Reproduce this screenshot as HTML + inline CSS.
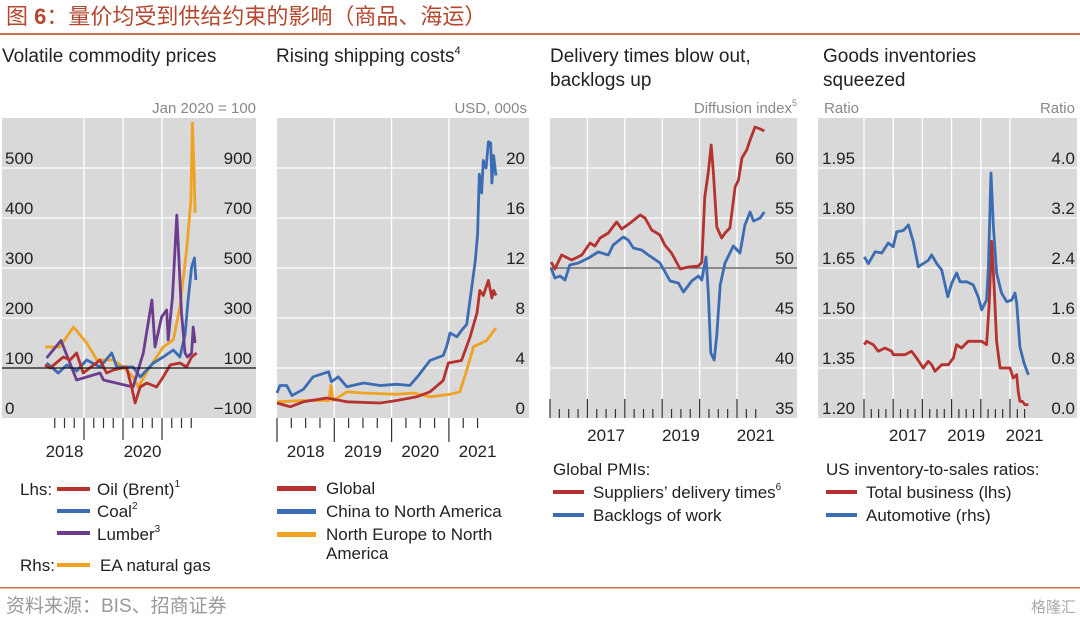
<!DOCTYPE html>
<html><head><meta charset="utf-8"><style>
body{margin:0;background:#fff;width:1080px;height:621px;overflow:hidden}
svg{display:block}
text{font-family:"Liberation Sans","Noto Sans CJK SC",sans-serif}
</style></head><body>
<svg id="s" width="1080" height="621" viewBox="0 0 1080 621">
<text x="6" y="24" font-size="22" fill="#b5472f" font-family="'Liberation Serif','Noto Serif CJK SC',serif">图 <tspan font-weight="bold" font-family="'Liberation Sans',sans-serif">6</tspan>：量价均受到供给约束的影响（商品、海运）</text>
<rect x="0" y="33" width="1080" height="2" fill="#c8704f"/>
<text x="2" y="62" font-size="19" fill="#222">Volatile commodity prices</text>
<text x="276" y="62" font-size="19" fill="#222">Rising shipping costs<tspan font-size="11" dy="-8">4</tspan></text>
<text x="550" y="62" font-size="19" fill="#222">Delivery times blow out,<tspan x="550" dy="24">backlogs up</tspan></text>
<text x="823" y="62" font-size="19" fill="#222">Goods inventories<tspan x="823" dy="24">squeezed</tspan></text>
<text x="256" y="113" font-size="15" fill="#888" text-anchor="end">Jan 2020 = 100</text>
<text x="527" y="113" font-size="15" fill="#888" text-anchor="end">USD, 000s</text>
<text x="797" y="113" font-size="15" fill="#888" text-anchor="end">Diffusion index<tspan font-size="9" dy="-7">5</tspan></text>
<text x="824" y="113" font-size="15" fill="#888">Ratio</text>
<text x="1075" y="113" font-size="15" fill="#888" text-anchor="end">Ratio</text>
<g id="charts"></g>
<g font-size="17" fill="#222">
<text x="20" y="495">Lhs:</text>
<rect x="57" y="487" width="33" height="4" fill="#b5322f"/>
<text x="97" y="495">Oil (Brent)<tspan font-size="10" dy="-8">1</tspan></text>
<rect x="57" y="509" width="33" height="4" fill="#3c6db4"/>
<text x="97" y="517">Coal<tspan font-size="10" dy="-8">2</tspan></text>
<rect x="57" y="531" width="33" height="4" fill="#6c3d8f"/>
<text x="97" y="540">Lumber<tspan font-size="10" dy="-8">3</tspan></text>
<text x="20" y="571">Rhs:</text>
<rect x="57" y="563" width="33" height="4" fill="#f0a323"/>
<text x="100" y="571">EA natural gas</text>
<rect x="277" y="486" width="39" height="5" fill="#b5322f"/>
<text x="326" y="494">Global</text>
<rect x="277" y="509" width="39" height="5" fill="#3c6db4"/>
<text x="326" y="517">China to North America</text>
<rect x="277" y="532" width="39" height="5" fill="#f0a323"/>
<text x="326" y="540">North Europe to North<tspan x="326" dy="19">America</tspan></text>
<text x="553" y="475">Global PMIs:</text>
<rect x="553" y="490" width="31" height="4" fill="#b5322f"/>
<text x="593" y="498">Suppliers’ delivery times<tspan font-size="10" dy="-8">6</tspan></text>
<rect x="553" y="513" width="31" height="4" fill="#3c6db4"/>
<text x="593" y="521">Backlogs of work</text>
<text x="826" y="475">US inventory-to-sales ratios:</text>
<rect x="826" y="490" width="31" height="4" fill="#b5322f"/>
<text x="866" y="498">Total business (lhs)</text>
<rect x="826" y="513" width="31" height="4" fill="#3c6db4"/>
<text x="866" y="521">Automotive (rhs)</text>
</g>
<rect x="0" y="587" width="1080" height="1.5" fill="#c8704f"/>
<text x="6" y="612" font-size="19" fill="#999" font-family="'Liberation Serif','Noto Serif CJK SC',serif">资料来源：BIS、招商证券</text>
<text x="1076" y="612" font-size="15" fill="#aaa" text-anchor="end">格隆汇</text>
</svg>
<script>
// Panel 1: commodity prices (Jan 2020 = 100)
const oilT=[2018.00,2018.13,2018.47,2018.64,2018.81,2018.98,2019.41,2019.58,2019.75,2020.09,2020.22,2020.31,2020.44,2020.61,2020.86,2021.03,2021.21,2021.46,2021.63,2021.76,2021.89];
const oilV=[106,100,122,116,130,90,116,90,96,102,62,30,62,70,62,82,106,110,102,122,130];
const coalT=[2018.04,2018.34,2018.56,2018.81,2019.07,2019.41,2019.71,2019.84,2020.26,2020.44,2020.78,2021.03,2021.29,2021.46,2021.59,2021.67,2021.76,2021.83,2021.87];
const coalV=[110,90,106,94,116,102,130,102,102,82,110,122,136,122,166,236,302,320,276];
const lumberT=[2018.04,2018.41,2018.81,2019.41,2019.50,2020.26,2020.52,2020.74,2020.82,2020.99,2021.12,2021.16,2021.27,2021.38,2021.50,2021.59,2021.65,2021.76,2021.80,2021.85];
const lumberV=[120,155,76,90,76,62,130,236,142,202,216,156,242,406,210,130,122,130,182,150];
const gasT=[2018.00,2018.38,2018.73,2019.07,2019.33,2019.75,2020.01,2020.26,2020.39,2020.69,2021.03,2021.29,2021.46,2021.63,2021.74,2021.78,2021.82,2021.85];
const gasV=[184,184,264,200,132,132,104,64,24,104,184,212,344,572,772,1080,904,720];
const p1LeftTicks=[0,100,200,300,400,500];
const p1RightTicks=[-100,100,300,500,700,900];
const p1Years=[2018,2020];
// Panel 2: shipping costs (USD 000s)
const shipT=[2018.00,2018.05,2018.17,2018.26,2018.46,2018.63,2018.90,2018.95,2019.07,2019.22,2019.51,2019.80,2020.09,2020.32,2020.47,2020.67,2020.90,2020.96,2021.02,2021.14,2021.22,2021.31,2021.40,2021.46,2021.50,2021.53,2021.57,2021.60,2021.65,2021.69,2021.73,2021.75,2021.78,2021.82];
const chinaV=[2.0,2.6,2.6,1.8,2.3,3.3,3.7,2.9,3.3,2.5,2.8,2.6,2.7,2.6,3.4,4.6,5.0,5.7,6.8,6.5,7.0,7.5,10.5,12.6,14.7,19.5,18.0,20.6,20.0,22.1,22.0,18.8,21.0,19.4];
const globalT=[2018.00,2018.23,2018.46,2018.87,2019.22,2019.80,2020.09,2020.44,2020.67,2020.90,2020.99,2021.22,2021.37,2021.49,2021.54,2021.60,2021.69,2021.75,2021.78,2021.82];
const globalV=[1.2,0.9,1.3,1.6,1.3,1.2,1.4,1.7,2.1,3.0,4.4,4.6,6.5,8.4,10.2,9.8,11.0,9.6,10.2,9.8];
const europeT=[2018.00,2018.46,2018.91,2018.94,2018.98,2019.22,2019.51,2020.09,2020.38,2020.67,2021.02,2021.19,2021.31,2021.43,2021.66,2021.82];
const europeV=[1.3,1.4,1.4,2.6,1.4,2.1,2.0,1.9,2.0,1.7,1.9,2.1,3.8,5.7,6.2,7.2];
const p2Ticks=[0,4,8,12,16,20];
const p2Years=[2018,2019,2020,2021];
// Panel 3: global PMIs
const delivT=[2016.03,2016.13,2016.31,2016.58,2016.85,2017.07,2017.20,2017.34,2017.56,2017.78,2017.92,2018.18,2018.41,2018.54,2018.72,2018.94,2019.07,2019.25,2019.48,2019.70,2019.97,2020.06,2020.14,2020.23,2020.31,2020.37,2020.46,2020.59,2020.68,2020.81,2020.95,2021.04,2021.13,2021.26,2021.35,2021.48,2021.62,2021.73];
const delivV=[50.6,49.9,51.3,50.8,51.3,52.5,52.2,53.0,53.5,54.6,53.9,54.6,55.3,55.0,53.8,53.3,52.3,51.5,49.9,50.1,50.2,50.6,57.1,59.5,62.3,59.5,54.1,53.0,53.5,54.0,58.1,58.8,61.0,61.8,62.8,64.1,63.9,63.7];
const backT=[2016.03,2016.13,2016.27,2016.40,2016.53,2016.76,2017.03,2017.29,2017.56,2017.69,2017.96,2018.09,2018.23,2018.45,2018.63,2018.94,2019.21,2019.43,2019.57,2019.79,2019.97,2020.06,2020.17,2020.23,2020.30,2020.39,2020.46,2020.55,2020.68,2020.90,2021.08,2021.21,2021.35,2021.44,2021.62,2021.73];
const backV=[50.0,49.0,49.2,48.8,50.3,50.5,51.0,51.6,51.3,52.3,53.1,52.8,52.0,51.8,51.3,50.5,48.7,48.5,47.6,48.7,49.2,48.8,51.1,47.7,41.5,40.8,43.3,48.3,50.5,52.2,51.5,54.3,55.6,54.7,55.0,55.6];
const p3Ticks=[35,40,45,50,55,60];
const p3Years=[2017,2019,2021];
// Panel 4: US inventory-to-sales
const totT=[2016.01,2016.09,2016.32,2016.49,2016.72,2016.95,2017.00,2017.18,2017.40,2017.63,2017.80,2018.03,2018.20,2018.32,2018.43,2018.66,2018.89,2019.06,2019.17,2019.34,2019.57,2020.03,2020.20,2020.29,2020.37,2020.46,2020.54,2020.66,2021.00,2021.11,2021.23,2021.28,2021.34,2021.42,2021.51,2021.63];
const totV=[1.42,1.43,1.42,1.40,1.41,1.40,1.39,1.39,1.39,1.40,1.38,1.35,1.37,1.36,1.34,1.36,1.36,1.38,1.42,1.41,1.43,1.43,1.42,1.55,1.73,1.59,1.43,1.35,1.35,1.32,1.33,1.28,1.25,1.25,1.24,1.24];
const autoT=[2016.01,2016.15,2016.38,2016.61,2016.83,2017.00,2017.12,2017.35,2017.52,2017.69,2017.86,2018.03,2018.20,2018.32,2018.49,2018.66,2018.87,2019.00,2019.17,2019.29,2019.52,2019.74,2019.91,2020.03,2020.20,2020.26,2020.35,2020.43,2020.54,2020.71,2020.89,2021.06,2021.17,2021.23,2021.34,2021.48,2021.63];
const autoV=[2.58,2.47,2.66,2.64,2.80,2.74,2.98,3.00,3.09,2.82,2.42,2.47,2.52,2.61,2.47,2.37,1.94,2.15,2.32,2.18,2.18,2.13,1.94,1.73,1.89,2.42,3.92,3.06,2.32,2.00,1.86,1.89,2.00,1.84,1.14,0.88,0.69];
const p4LeftTicks=[1.20,1.35,1.50,1.65,1.80,1.95];
const p4RightTicks=[0.0,0.8,1.6,2.4,3.2,4.0];
const p4Years=[2017,2019,2021];

const NS='http://www.w3.org/2000/svg';
const root=document.getElementById('charts');
function mk(tag,attrs,parent){const e=document.createElementNS(NS,tag);for(const k in attrs)e.setAttribute(k,attrs[k]);(parent||root).appendChild(e);return e;}
function linear(d0,d1,r0,r1){return v=>r0+(v-d0)/(d1-d0)*(r1-r0);}
const TOP=118,BOT=418;
function panel(name,x0,x1,gridX,gridVals,yS){
  const g=mk('g',{});
  
  
  const bg=mk('rect',{x:x0,y:TOP,width:x1-x0,height:BOT-TOP,fill:'#d9d9d9'},g);
  
  
  gridVals.forEach(v=>{const l=mk('line',{x1:x0,x2:x1,y1:yS(v),y2:yS(v),stroke:'#fff','stroke-width':1.3},g);
    
    });
  gridX.forEach(x=>{const l=mk('line',{x1:x,x2:x,y1:TOP,y2:BOT,stroke:'#fff','stroke-width':1.3},g);
    
    });
  return g;
}
function series(g,T,V,xS,yS,color,name){
  const d=T.map((t,i)=>(i?'L':'M')+xS(t).toFixed(1)+','+yS(V[i]).toFixed(1)).join('');
  const p=mk('path',{d:d,fill:'none',stroke:color,'stroke-width':2.8,'stroke-linejoin':'round'},g);
  
  
}
function label(g,x,y,txt,anchor,name){
  const t=mk('text',{x:x,y:y,'font-size':17,fill:'#222','text-anchor':anchor},g);
  t.textContent=txt;
  
  
}
function ticks(g,xS,t0,t1,y,dir,minor,major){
  for(let q=Math.round(t0*4);q<=Math.round(t1*4);q++){
    const t=q/4,isMaj=q%4===0,x=xS(t);
    const l=mk('line',{x1:x,x2:x,y1:y,y2:y+dir*(isMaj?major:minor),stroke:'#333','stroke-width':1.2},g);
    
    
  }
}
const C={red:'#b5322f',blue:'#3c6db4',purple:'#6c3d8f',orange:'#f0a323'};
// Panel 1
(function(){
  const xS=linear(2018,2019,45,84);const yL=linear(0,500,418,168);const yR=linear(-100,900,418,168);
  const g=panel('commodity-chart',2,256,[xS(2019),xS(2020),xS(2021)],p1LeftTicks.slice(1),yL);
  series(g,gasT,gasV,xS,yR,C.orange,'gas-line');
  series(g,coalT,coalV,xS,yL,C.blue,'coal-line');
  series(g,lumberT,lumberV,xS,yL,C.purple,'lumber-line');
  series(g,oilT,oilV,xS,yL,C.red,'oil-line');
  const b=mk('line',{x1:2,x2:256,y1:yL(100),y2:yL(100),stroke:'#111','stroke-width':1.2},g);
  
  
  p1LeftTicks.forEach(v=>label(g,5,yL(v)-4,String(v),'start','y-left-tick'));
  p1RightTicks.forEach(v=>label(g,252,yR(v)-4,(v<0?'\u2212':'')+Math.abs(v),'end','y-right-tick'));
  ticks(g,xS,2018.25,2021.75,418,1,10,22);
  p1Years.forEach(y=>label(g,xS(y+0.5),457,String(y),'middle','x-year-label'));
})();
// Panel 2
(function(){
  const xS=linear(2018,2019,277,334.3);const yS=linear(0,20,418,168);
  const g=panel('shipping-chart',277,529,[xS(2019),xS(2020),xS(2021)],p2Ticks.slice(1),yS);
  series(g,europeT,europeV,xS,yS,C.orange,'europe-line');
  series(g,globalT,globalV,xS,yS,C.red,'global-line');
  series(g,shipT,chinaV,xS,yS,C.blue,'china-line');
  p2Ticks.forEach(v=>label(g,525,yS(v)-4,String(v),'end','y-tick'));
  ticks(g,xS,2018,2021.5,418,1,10,24);
  p2Years.forEach(y=>label(g,xS(y+0.5),457,String(y),'middle','x-year-label'));
})();
// Panel 3
(function(){
  const xS=linear(2016,2017,550,587.4);const yS=linear(35,60,418,168);
  const g=panel('pmi-chart',550,797,[2017,2018,2019,2020,2021].map(xS),p3Ticks.slice(1),yS);
  const b=mk('line',{x1:550,x2:797,y1:yS(50),y2:yS(50),stroke:'#555','stroke-width':1.2},g);
  
  
  series(g,delivT,delivV,xS,yS,C.red,'delivery-line');
  series(g,backT,backV,xS,yS,C.blue,'backlogs-line');
  p3Ticks.forEach(v=>label(g,794,yS(v)-4,String(v),'end','y-tick'));
  ticks(g,xS,2016,2021.5,418,-1,9,19);
  p3Years.forEach(y=>label(g,xS(y+0.5),441,String(y),'middle','x-year-label'));
})();
// Panel 4
(function(){
  const xS=linear(2016,2017,864,893.2);const yL=linear(1.2,1.95,418,168);const yR=linear(0,4,418,168);
  const g=panel('inventory-chart',818,1077,[2016,2017,2018,2019,2020,2021].map(xS),p4LeftTicks.slice(1),yL);
  series(g,totT,totV,xS,yL,C.red,'total-business-line');
  series(g,autoT,autoV,xS,yR,C.blue,'automotive-line');
  p4LeftTicks.forEach(v=>label(g,822,yL(v)-4,v.toFixed(2),'start','y-left-tick'));
  p4RightTicks.forEach(v=>label(g,1075,yR(v)-4,v.toFixed(1),'end','y-right-tick'));
  ticks(g,xS,2016,2021.5,418,-1,9,19);
  p4Years.forEach(y=>label(g,xS(y+0.5),441,String(y),'middle','x-year-label'));
})();
</script>
</body></html>
